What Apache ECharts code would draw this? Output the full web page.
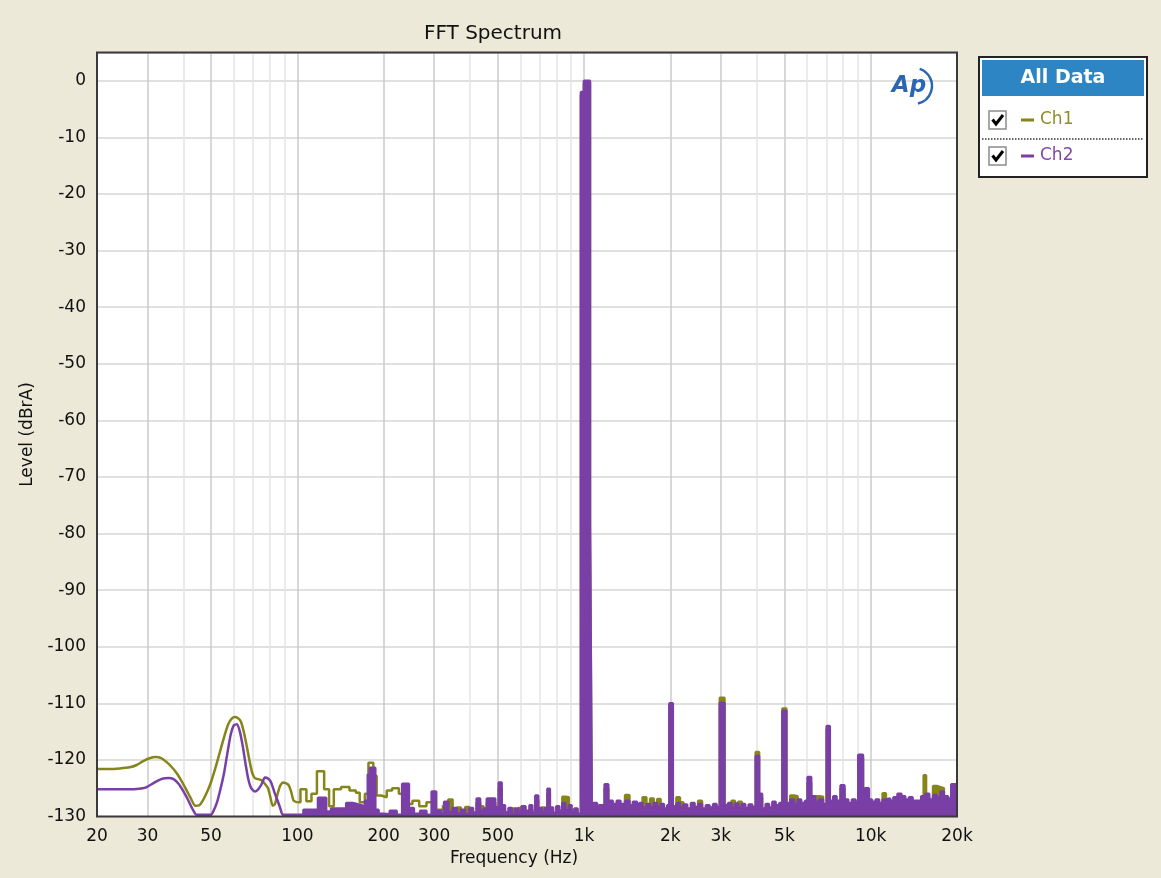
<!DOCTYPE html>
<html>
<head>
<meta charset="utf-8">
<script src="https://cdn.jsdelivr.net/npm/echarts@6/dist/echarts.min.js"></script>
<style>
html,body{margin:0;padding:0;background:#ECE9D8;}
#chart{width:1161px;height:878px;}
</style>
</head>
<body>
<div id="chart"></div>
<script>
// ---------------- DATA ----------------
const chartTitle = 'FFT Spectrum';
const xName = 'Frequency (Hz)';
const yName = 'Level (dBrA)';
const seriesNames = ['Ch1', 'Ch2'];
const xLabelVals = [20, 30, 50, 100, 200, 300, 500, 1000, 2000, 3000, 5000, 10000, 20000];
const xGridVals = [20, 30, 40, 50, 60, 70, 80, 90, 100, 200, 300, 400, 500, 600, 700, 800, 900,
  1000, 2000, 3000, 4000, 5000, 6000, 7000, 8000, 9000, 10000, 20000];
const yMin = -130, yMax = 5, yStep = 10;

// Ch1: smooth low-frequency part, stepped middle part, stepped high part (dense FFT bins)
const ch1Low = [[20,-121.6],[22,-121.6],[24,-121.5],[26,-121.3],[27.5,-120.9],[29,-120.2],[30.5,-119.7],[32,-119.5],[33.5,-119.7],[35,-120.4],[36.5,-121.3],[38,-122.4],[39.5,-123.8],[41,-125.3],[42.5,-126.8],[44,-128.1],[45.5,-128],[47,-127],[48.5,-125.6],[50,-123.9],[51.5,-121.8],[53,-119.6],[54.5,-117.4],[56,-115.3],[57.5,-113.6],[59,-112.7],[60.5,-112.4],[62,-112.6],[63.5,-113.2],[65,-115],[66.5,-117.4],[68,-120],[69.5,-122.2],[71,-123.2],[73,-123.4],[75,-123.6],[77,-124.2],[79,-125],[80.5,-126.6],[82,-128.1],[83.5,-127.8],[85,-126.3],[87,-124.6],[89,-124],[91,-124.1],[93,-124.4],[95,-125.5],[97,-127.2],[100,-127.5]];
const ch1Mid = [[100,-127.5],[102.5,-125.2],[107.5,-127.3],[112,-126],[117,-122],[124,-125.2],[129,-128.2],[134,-125.2],[142,-124.8],[152,-125.4],[160,-125.8],[165,-127.5],[172,-126],[177,-120.5],[184,-122.8],[189,-126.3],[196,-126.6],[205,-125.4],[214,-125],[226,-126],[238,-127.8],[252,-127.2],[266,-128.2],[282,-127.5],[298,-128.8],[322,-128]];
const ch1High = [[322,-128],[336,-127],[348,-129.2],[360,-128.4],[372,-129.5],[385,-128.3],[398,-129.2],[410,-129.8],[422,-127.5],[434,-128.2],[446,-129.3],[458,-127.5],[490,-129],[504,-125],[516,-128.7],[530,-129.8],[545,-129.2],[560,-128.6],[575,-129.3],[590,-128.5],[605,-129],[625,-129.6],[645,-128.7],[660,-129.8],[676,-127],[692,-129.2],[712,-128.4],[730,-129.2],[745,-126],[760,-129],[780,-129.8],[800,-128.9],[820,-129.6],[840,-126.5],[860,-126.6],[885,-128.7],[905,-129.6],[925,-129.2],[950,-129.8],[975,-2.5],[999,-0.3],[1049,-80],[1064,-129],
  [1080,-128.2],[1110,-129.2],[1128,-128.7],[1180,-125],[1215,-127.9],[1260,-128.4],[1300,-127.9],[1340,-128.4],[1390,-126.2],[1440,-128.7],[1480,-128.1],[1530,-128.8],[1560,-128.2],[1600,-126.6],[1650,-128.4],[1700,-126.8],[1750,-128.3],[1800,-126.9],[1850,-128.4],[1900,-129.2],[1950,-128.6],[1985,-110.4],[2040,-128.8],[2100,-126.6],[2160,-127.5],[2220,-128.5],[2290,-129.2],[2360,-128.3],[2430,-129],[2500,-127.2],[2580,-129.2],[2660,-128.6],[2740,-129],[2820,-128.4],[2900,-129],[2975,-109],[3090,-128.6],
  [3180,-128.2],[3270,-127.2],[3360,-128.3],[3450,-127.4],[3550,-128.4],[3650,-129],[3750,-128.5],[3860,-128.9],[3970,-118.6],[4080,-126.6],[4180,-129.2],[4300,-128.4],[4420,-129],[4540,-128],[4660,-128.6],[4800,-128.2],[4920,-110.9],[5080,-128.2],[5240,-126.3],[5400,-126.4],[5560,-127.6],[5720,-128.2],[5900,-127.8],[6020,-124],[6200,-127],[6400,-126.4],[6600,-126.5],[6820,-128.4],[7020,-114.6],[7200,-127.8],[7400,-127],[7600,-127.8],[7850,-125],[8100,-127.6],[8350,-128.2],[8600,-127.6],[8850,-128],[9050,-119.6],[9400,-127.6],[9550,-125.6],[9850,-127.6],[10100,-128],
  [10400,-127.6],[10700,-128.2],[11000,-125.9],[11300,-127.4],[11700,-127.8],[12000,-127.2],[12400,-126.6],[12800,-127],[13200,-127.6],[13600,-127.2],[14000,-127.8],[14500,-127.8],[15000,-127],[15300,-122.7],[15600,-126.6],[16000,-127.6],[16500,-124.6],[17000,-124.8],[17500,-125],[18000,-127],[18600,-127.4],[19100,-124.9],[20000,-124.9]];

// Ch2
const ch2Low = [[20,-125.2],[22,-125.2],[24,-125.2],[26,-125.2],[28,-125.1],[29.5,-124.9],[31,-124.3],[32.5,-123.7],[34,-123.3],[35.5,-123.2],[37,-123.4],[38.5,-124.2],[40,-125.5],[41.5,-127],[43,-128.6],[44.5,-129.7],[50,-129.7],[51,-129],[52.5,-127.4],[54,-125],[55.5,-122.3],[57,-118.8],[58.5,-115.6],[60,-113.9],[61.5,-113.7],[63,-115],[64.5,-117.6],[66,-120.8],[67.5,-123.5],[69,-125],[71,-125.6],[73,-125.2],[75,-124.3],[77,-123.1],[79,-123.3],[81,-124],[83,-125.6],[85,-127],[87,-128.4],[89,-129.7],[100,-129.7]];
const ch2High = [[100,-129.7],[105,-128.8],[118,-126.7],[126,-129.1],[131,-128.6],[148,-127.6],[156,-127.9],[165,-128.2],[172,-127.2],[176,-122.6],[179,-121.4],[187,-128.8],[192,-129.5],[200,-129.6],[210,-129],[222,-129.7],[232,-124.2],[245,-128.5],[255,-129.5],[268,-129],[282,-129.7],[294,-125.6],[305,-129],[318,-129.5],[325,-127.4],[336,-129.2],[348,-128.5],[360,-129.5],[372,-128.8],[385,-129.6],[398,-128.5],[410,-129.3],[422,-126.8],[434,-129],[446,-128.6],[458,-126.8],[490,-128.3],[504,-124],[516,-128],[530,-129.3],[545,-128.5],[560,-129.5],[575,-128.6],[590,-129.3],[605,-128.2],[625,-129],[645,-128],[660,-129.3],[676,-126.3],[692,-128.5],[712,-129.2],[730,-128.5],[745,-125.1],[760,-128.4],[780,-129.4],[800,-128.2],[820,-129],[840,-127.6],[860,-128.8],[885,-128],[905,-129.2],[925,-128.6],[950,-129.5],[975,-2],[999,0],[1049,-78],[1064,-128.5],
  [1080,-127.6],[1110,-128.6],[1128,-128],[1180,-124.3],[1215,-127.2],[1260,-127.8],[1300,-127.2],[1340,-127.8],[1390,-127.2],[1440,-128],[1480,-127.4],[1530,-128.2],[1560,-127.6],[1600,-128.4],[1650,-127.8],[1700,-128.4],[1750,-127.6],[1800,-128.3],[1850,-127.8],[1900,-128.6],[1950,-128],[1985,-110],[2040,-128.2],[2100,-127.6],[2160,-128.4],[2220,-127.9],[2290,-128.6],[2360,-127.6],[2430,-128.3],[2500,-127.8],[2580,-128.6],[2660,-128],[2740,-128.4],[2820,-127.8],[2900,-128.3],[2975,-109.9],[3090,-128],
  [3180,-127.6],[3270,-128.4],[3360,-127.7],[3450,-128.4],[3550,-127.8],[3650,-128.5],[3750,-127.9],[3860,-128.3],[3970,-119.3],[4080,-126],[4180,-128.6],[4300,-127.8],[4420,-128.4],[4540,-127.4],[4660,-128],[4800,-127.6],[4920,-111.3],[5080,-127.6],[5240,-127],[5400,-127.8],[5560,-127],[5720,-127.6],[5900,-127.2],[6020,-123],[6200,-126.4],[6400,-127.4],[6600,-127],[6820,-127.8],[7020,-114],[7200,-127.2],[7400,-126.4],[7600,-127.2],[7850,-124.5],[8100,-127],[8350,-127.6],[8600,-127],[8850,-127.4],[9050,-119.1],[9400,-127],[9550,-125],[9850,-127],[10100,-127.4],
  [10400,-127],[10700,-127.6],[11000,-127],[11300,-126.8],[11700,-127.2],[12000,-126.6],[12400,-126],[12800,-126.4],[13200,-127],[13600,-126.6],[14000,-127.2],[14500,-127.2],[15000,-126.4],[15500,-126],[16000,-127],[16500,-126.2],[17000,-126.6],[17500,-125.6],[18000,-126.4],[18600,-126.8],[19100,-124.3],[20000,-124.3]];

// ---------------- STYLE ----------------
const FONT = '"DejaVu Sans", Verdana, sans-serif';
const C1 = '#85851A';
const C2 = '#7A3FA6';
const BG = '#ECE9D8';
const G = { left: 97, top: 52.5, width: 860, height: 764 };

const fmtHz = v => v >= 1000 ? (Math.round(v / 100) / 10) + 'k' : String(Math.round(v));
const gridColors = xGridVals.map(v => xLabelVals.indexOf(v) >= 0 ? '#CBCBCB' : '#E4E4E4');

function lineSeries(name, data, color, z, opts) {
  return Object.assign({
    name: name,
    type: 'line',
    data: data,
    z: z,
    symbol: 'none',
    showSymbol: false,
    clip: true,
    lineStyle: { color: color, width: 2.5 },
    itemStyle: { color: color },
    emphasis: { disabled: true },
    animation: false
  }, opts || {});
}

const chart = echarts.init(document.getElementById('chart'), null, { renderer: 'canvas' });

function checkbox(y) {
  return [
    { type: 'rect', shape: { x: 989, y: y - 9, width: 17, height: 18 }, style: { fill: '#fff', stroke: '#8C8C8C', lineWidth: 1.5 }, z: 101 },
    { type: 'polyline', shape: { points: [[992.5, y - 0.5], [996, y + 4], [1003, y - 5]] }, style: { stroke: '#000', fill: null, lineWidth: 3 }, z: 102 }
  ];
}

const graphics = [
  // plot frame
  { type: 'rect', shape: { x: G.left, y: G.top, width: G.width, height: G.height }, style: { fill: null, stroke: '#3A3A3A', lineWidth: 2 }, z: 100, silent: true },
  // AP logo
  { type: 'text', x: 909, y: 86, style: { text: 'Ap', fill: '#2B66B3', font: 'italic bold 23px ' + FONT, align: 'center', verticalAlign: 'middle', textAlign: 'center', textVerticalAlign: 'middle' }, z: 101 },
  { type: 'arc', shape: { cx: 914, cy: 86, r: 18, startAngle: -1.25, endAngle: 1.35 }, style: { stroke: '#2B66B3', fill: null, lineWidth: 2.5 }, z: 101 },
  // legend box
  { type: 'rect', shape: { x: 979, y: 57, width: 168, height: 120 }, style: { fill: '#fff', stroke: '#222', lineWidth: 2 }, z: 100 },
  { type: 'rect', shape: { x: 982, y: 60, width: 162, height: 36 }, style: { fill: '#2D86C3' }, z: 101 },
  { type: 'text', x: 1063, y: 78, style: { text: 'All Data', fill: '#fff', font: 'bold 19px ' + FONT, align: 'center', verticalAlign: 'middle', textAlign: 'center', textVerticalAlign: 'middle' }, z: 102 },
  ...checkbox(120),
  { type: 'line', shape: { x1: 1021, y1: 120, x2: 1034, y2: 120 }, style: { stroke: C1, lineWidth: 3 }, z: 101 },
  { type: 'text', x: 1040, y: 120, style: { text: seriesNames[0], fill: '#8E8E2A', font: '17px ' + FONT, align: 'left', verticalAlign: 'middle', textAlign: 'left', textVerticalAlign: 'middle' }, z: 101 },
  { type: 'line', shape: { x1: 982, y1: 139, x2: 1144, y2: 139 }, style: { stroke: '#333', lineWidth: 1.5, lineDash: [1.5, 1.5] }, z: 101 },
  ...checkbox(156),
  { type: 'line', shape: { x1: 1021, y1: 156, x2: 1034, y2: 156 }, style: { stroke: C2, lineWidth: 3 }, z: 101 },
  { type: 'text', x: 1040, y: 156, style: { text: seriesNames[1], fill: '#8246B4', font: '17px ' + FONT, align: 'left', verticalAlign: 'middle', textAlign: 'left', textVerticalAlign: 'middle' }, z: 101 }
];

const option = {
  backgroundColor: BG,
  animation: false,
  title: {
    text: chartTitle, left: 488, top: 19, textAlign: 'center',
    textStyle: { fontFamily: FONT, fontSize: 20, fontWeight: 'normal', color: '#111' }
  },
  legend: { show: false },
  tooltip: { show: false },
  grid: {
    left: G.left, top: G.top, width: G.width, height: G.height,
    show: true, backgroundColor: '#fff', borderWidth: 0
  },
  xAxis: {
    type: 'log', logBase: 10, min: 20, max: 20000,
    name: xName, nameLocation: 'middle', nameGap: 33,
    nameTextStyle: { fontFamily: FONT, fontSize: 17, color: '#111', padding: [0, 26, 0, 0] },
    axisLine: { show: false },
    axisTick: { show: false, customValues: xGridVals },
    axisLabel: { customValues: xLabelVals, formatter: fmtHz, margin: 12, fontFamily: FONT, fontSize: 17, color: '#111' },
    splitLine: { show: true, lineStyle: { color: gridColors, width: 1.5 } },
    minorTick: { show: false }, minorSplitLine: { show: false }
  },
  yAxis: {
    type: 'value', min: yMin, max: yMax, interval: yStep,
    name: yName, nameLocation: 'middle', nameGap: 57,
    nameTextStyle: { fontFamily: FONT, fontSize: 17, color: '#111' },
    axisLine: { show: false },
    axisTick: { show: false },
    axisLabel: { showMaxLabel: false, margin: 11, fontFamily: FONT, fontSize: 17, color: '#111',
      formatter: v => (v % 10 === 0 ? String(v) : '') },
    splitLine: { show: true, lineStyle: { color: '#D6D6D6', width: 1.5 } }
  },
  graphic: graphics,
  series: [
    lineSeries(seriesNames[0], ch1Low, C1, 2, { smooth: 0.2 }),
    lineSeries(seriesNames[0], ch1Mid, C1, 2, { step: 'end' }),
    lineSeries(seriesNames[0], ch1High, C1, 2, { step: 'end', areaStyle: { color: C1, opacity: 1, origin: 'start' } }),
    lineSeries(seriesNames[1], ch2Low, C2, 3, { smooth: 0.2 }),
    lineSeries(seriesNames[1], ch2High, C2, 3, { step: 'end', areaStyle: { color: C2, opacity: 1, origin: 'start' } })
  ]
};

chart.setOption(option);
</script>
</body>
</html>
